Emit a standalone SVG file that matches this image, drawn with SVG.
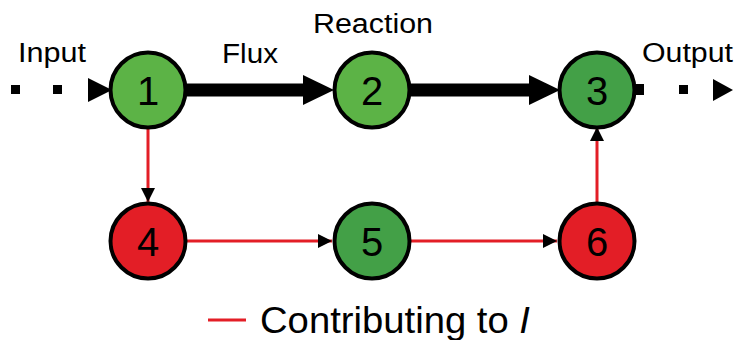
<svg xmlns="http://www.w3.org/2000/svg" width="740" height="340" viewBox="0 0 740 340">
<style>
.node{stroke:#000;stroke-width:4}
.lg{fill:#5cb346}
.dg{fill:#43a047}
.rd{fill:#e31e26}
.num{font-family:"Liberation Sans",Arial,sans-serif;font-size:40px;fill:#000;text-anchor:middle}
.lbl{font-family:"Liberation Sans",Arial,sans-serif;font-size:27px;fill:#000}
.flux{stroke:#000;stroke-width:13;fill:none}
.red{stroke:#e31e26;stroke-width:3;fill:none}
</style>
<defs>
<marker id="ah" markerWidth="14" markerHeight="14" refX="14" refY="7" orient="auto" markerUnits="userSpaceOnUse" viewBox="0 0 14 14">
<path d="M0,0 L14,7 L0,14 z" fill="#000"/>
</marker>
</defs>
<rect width="740" height="340" fill="#fff"/>
<g id="connectors">
<rect x="11" y="85" width="9" height="9" fill="#000"/>
<rect x="53" y="85" width="9" height="9" fill="#000"/>
<path d="M88,78 L112,90 L88,102 z" fill="#000"/>
<line class="flux" x1="185" y1="90" x2="306" y2="90"/>
<path d="M303,75 L334,90 L303,105 z" fill="#000"/>
<line class="flux" x1="410" y1="90" x2="532" y2="90"/>
<path d="M529,75 L560,90 L529,105 z" fill="#000"/>
<rect x="633" y="84" width="11" height="11" fill="#000"/>
<rect x="679" y="85" width="9" height="9" fill="#000"/>
<path d="M713,79 L733,90 L713,101 z" fill="#000"/>
<line class="red" x1="148" y1="128" x2="148" y2="202" marker-end="url(#ah)"/>
<line class="red" x1="187" y1="241" x2="332" y2="241" marker-end="url(#ah)"/>
<line class="red" x1="411" y1="241" x2="557" y2="241" marker-end="url(#ah)"/>
<line class="red" x1="597" y1="202" x2="597" y2="127" marker-end="url(#ah)"/>
</g>
<g id="n1"><circle class="node lg" cx="148" cy="90" r="37.5"/><text class="num" x="148" y="105">1</text></g>
<g id="n2"><circle class="node lg" cx="372" cy="90" r="37.5"/><text class="num" x="372" y="105">2</text></g>
<g id="n3"><circle class="node dg" cx="597" cy="90" r="37.5"/><text class="num" x="597" y="105">3</text></g>
<g id="n4"><circle class="node rd" cx="148" cy="241" r="37.5"/><text class="num" x="148" y="256">4</text></g>
<g id="n5"><circle class="node dg" cx="372" cy="241" r="37.5"/><text class="num" x="372" y="256">5</text></g>
<g id="n6"><circle class="node rd" cx="597" cy="241" r="37.5"/><text class="num" x="597" y="256">6</text></g>
<g id="labels">
<text class="lbl" x="18" y="62" textLength="68" lengthAdjust="spacingAndGlyphs">Input</text>
<text class="lbl" x="222" y="63" textLength="56" lengthAdjust="spacingAndGlyphs">Flux</text>
<text class="lbl" x="313" y="33" textLength="120" lengthAdjust="spacingAndGlyphs">Reaction</text>
<text class="lbl" x="642" y="62" textLength="91" lengthAdjust="spacingAndGlyphs">Output</text>
</g>
<g id="legend">
<line x1="208" y1="320" x2="246" y2="320" stroke="#e31e26" stroke-width="3"/>
<text x="260" y="333" font-family="'Liberation Sans',Arial,sans-serif" font-size="37" fill="#000" textLength="270" lengthAdjust="spacingAndGlyphs">Contributing to <tspan font-style="italic">I</tspan></text>
</g>
</svg>
